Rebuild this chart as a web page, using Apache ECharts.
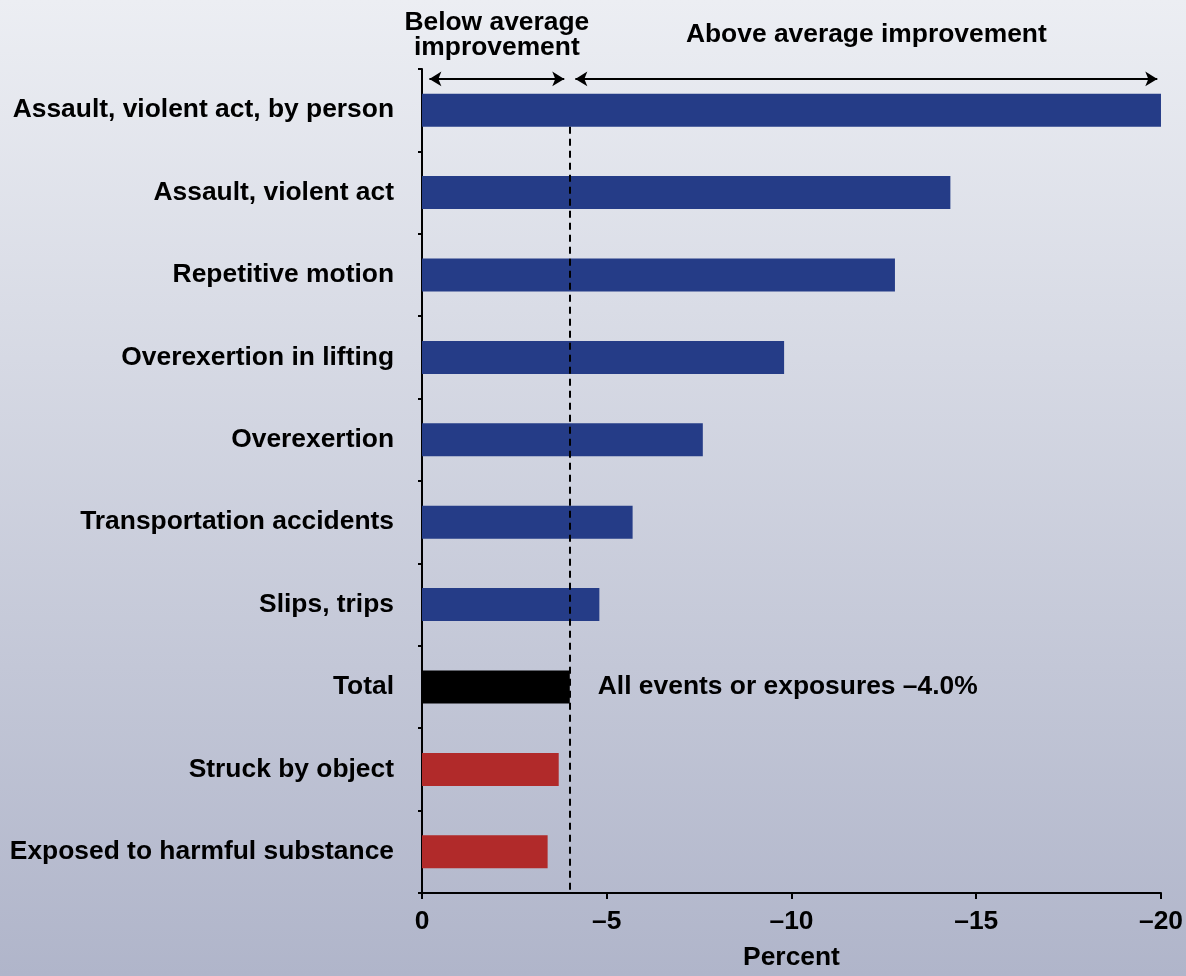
<!DOCTYPE html>
<html lang="en">
<head>
    <meta charset="UTF-8">
    <title>Change in injury rates by event or exposure</title>
    <script src="https://cdn.jsdelivr.net/npm/echarts@6/dist/echarts.min.js"></script>
    <style>
        html, body { margin: 0; padding: 0; }
    </style>
</head>
<body>
<div id="chart" style="width: 1186px;height: 976px;"></div>
<script>
    // categories top to bottom
    const categories = [
        'Assault, violent act, by person',
        'Assault, violent act',
        'Repetitive motion',
        'Overexertion in lifting',
        'Overexertion',
        'Transportation accidents',
        'Slips, trips',
        'Total',
        'Struck by object',
        'Exposed to harmful substance'
    ];
    // percent change
    const values = [-20.0, -14.3, -12.8, -9.8, -7.6, -5.7, -4.8, -4.0, -3.7, -3.4];
    const totalName = 'Total';
    const totalValue = -4.0;
    const xTicks = [0, -5, -10, -15, -20];
    // arrow ranges on the x scale
    const belowRange = [-0.2, -3.85];
    const aboveRange = [-4.15, -19.9];

    const FONT = '"Liberation Sans", Arial, sans-serif';
    const FS = 26.4;
    const dash = s => String(s).replace('-', '\u2013');

    const barData = categories.map((c, i) => {
        const item = { name: c, value: values[i] };
        if (c === totalName) {
            item.label = {
                show: true,
                position: 'right',
                distance: 28,
                formatter: p => 'All events or exposures ' + dash(p.value.toFixed(1)) + '%',
                color: '#000',
                fontFamily: FONT,
                fontWeight: 'bold',
                fontSize: FS
            };
        }
        return item;
    });

    const chart = echarts.init(document.getElementById('chart'));
    const option = {
        animation: false,
        backgroundColor: new echarts.graphic.LinearGradient(0, 0, 0, 1, [
            { offset: 0, color: '#eceef3' },
            { offset: 1, color: '#b0b5ca' }
        ]),
        grid: { left: 422, width: 739, top: 69, height: 828 },
        xAxis: {
            type: 'value',
            min: -20,
            max: 0,
            interval: 5,
            inverse: true,
            name: 'Percent',
            nameLocation: 'middle',
            nameGap: 52,
            nameTextStyle: { color: '#000', fontFamily: FONT, fontWeight: 'bold', fontSize: FS },
            axisLine: { show: true, onZero: false, lineStyle: { color: '#000', width: 2 } },
            axisTick: { show: true, length: 6, lineStyle: { color: '#000', width: 2 } },
            axisLabel: {
                margin: 16,
                color: '#000',
                fontFamily: FONT,
                fontWeight: 'bold',
                fontSize: FS,
                formatter: v => xTicks.indexOf(v) >= 0 ? dash(v) : ''
            },
            splitLine: { show: false }
        },
        yAxis: [{
            type: 'category',
            data: categories,
            inverse: true,
            axisLine: { show: true, lineStyle: { color: '#000', width: 2 } },
            axisTick: { show: true, length: 4, lineStyle: { color: '#000', width: 2 } },
            axisLabel: {
                margin: 28,
                color: '#000',
                fontFamily: FONT,
                fontWeight: 'bold',
                fontSize: FS
            },
            splitLine: { show: false }
        }, {
            // helper scale for annotations, one unit per category band
            type: 'value',
            min: 0,
            max: categories.length,
            inverse: true,
            show: false
        }],
        series: [{
            type: 'bar',
            data: barData,
            barWidth: 33,
            z: 3,
            itemStyle: {
                color: p => p.name === totalName ? '#000000'
                    : (p.value < totalValue ? '#253c87' : '#b12a2a')
            }
        }, {
            type: 'line',
            yAxisIndex: 1,
            data: [],
            z: 1,
            markLine: {
                silent: true,
                animation: false,
                symbol: ['none', 'none'],
                data: [
                    [
                        { coord: [totalValue, 0.7], lineStyle: { type: [7, 5], color: '#000', width: 2 } },
                        { coord: [totalValue, categories.length] }
                    ],
                    [
                        {
                            coord: [belowRange[0], 0.12],
                            symbol: 'arrow',
                            lineStyle: { type: 'solid', color: '#000', width: 2 },
                            label: {
                                show: true,
                                position: 'insideMiddleTop',
                                distance: 19,
                                formatter: 'Below average\nimprovement',
                                lineHeight: 25,
                                color: '#000', fontFamily: FONT, fontWeight: 'bold', fontSize: FS
                            }
                        },
                        { coord: [belowRange[1], 0.12], symbol: 'arrow' }
                    ],
                    [
                        {
                            coord: [aboveRange[0], 0.12],
                            symbol: 'arrow',
                            lineStyle: { type: 'solid', color: '#000', width: 2 },
                            label: {
                                show: true,
                                position: 'insideMiddleTop',
                                distance: 31,
                                formatter: 'Above average improvement',
                                color: '#000', fontFamily: FONT, fontWeight: 'bold', fontSize: FS
                            }
                        },
                        { coord: [aboveRange[1], 0.12], symbol: 'arrow' }
                    ]
                ],
                symbolSize: [11, 12]
            }
        }]
    };
    chart.setOption(option);
</script>
</body>
</html>
